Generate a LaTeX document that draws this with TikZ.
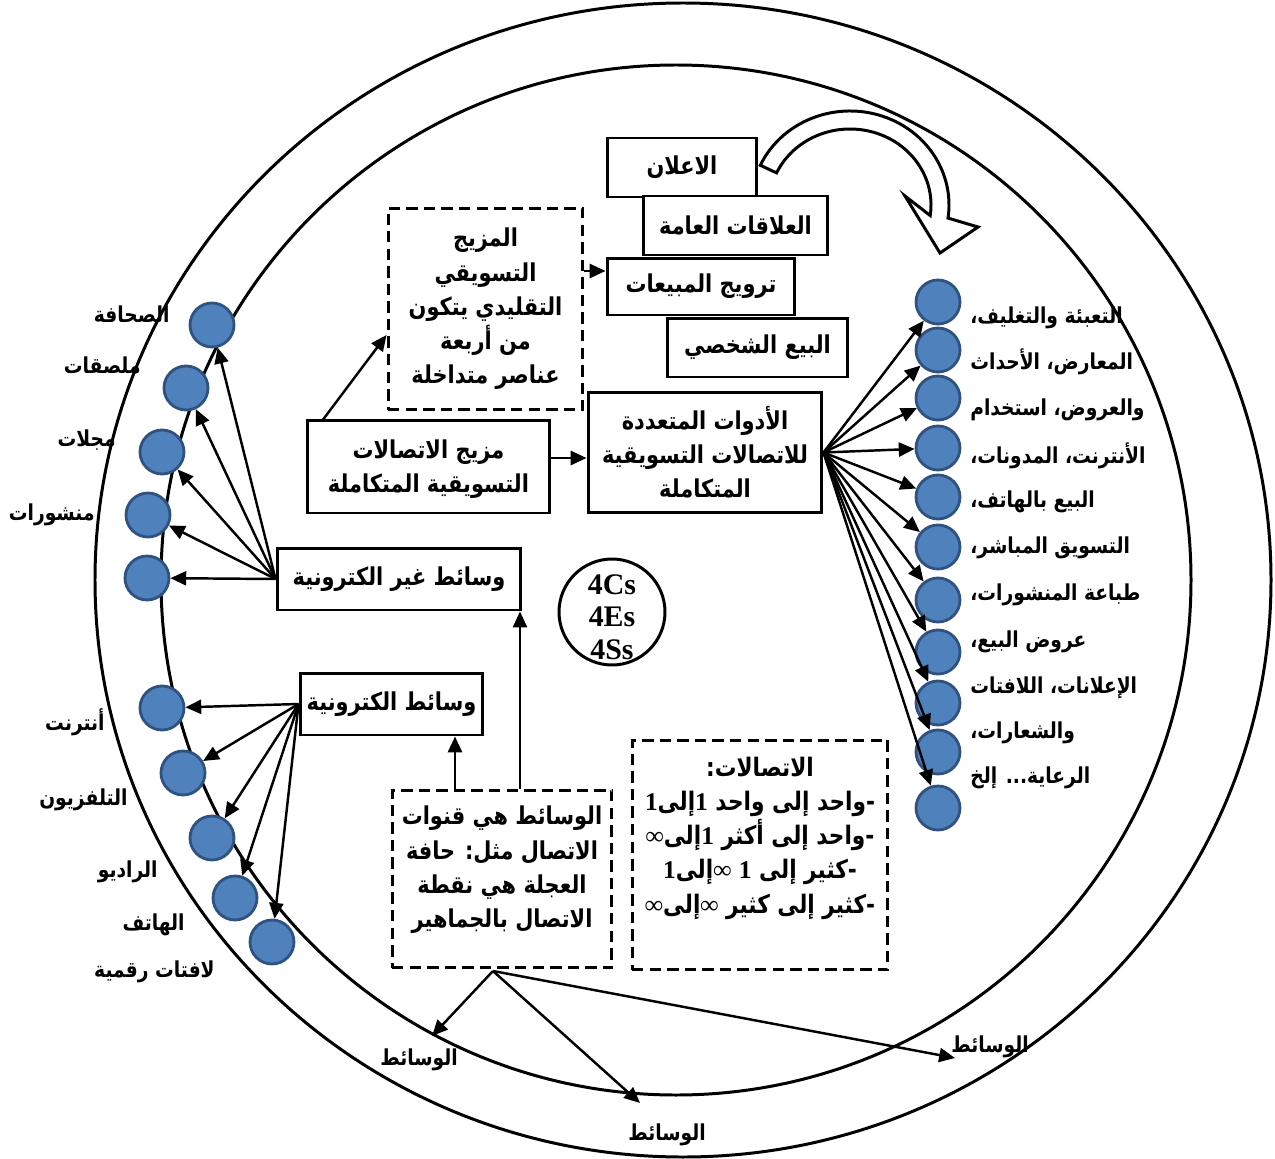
\documentclass[tikz,border=0pt]{standalone}
\usepackage{fontspec}
\usetikzlibrary{arrows.meta,calc}
\TeXXeTstate=1
\setmainfont{Liberation Serif}
\newfontfamily\arfont[Script=Arabic, FakeStretch=0.85]{DejaVu Sans}
\newcommand\ar[1]{\beginR #1\endR}
\newcommand\tok[1]{\hbox{#1}}
\newcommand\num[1]{\hbox{\rmfamily\bfseries #1}}
\definecolor{cblue}{HTML}{4F81BD}
\definecolor{cblueedge}{HTML}{2F5280}
\begin{document}
\begin{tikzpicture}[x=0.02cm,y=-0.02cm,
  ring/.style={line width=1.7pt},
  txt/.style={font=\arfont\bfseries\fontsize{14}{19.5}\selectfont, align=center, inner sep=0pt},
  box/.style={draw, line width=1.7pt, fill=white, inner sep=0pt},
  dbox/.style={draw, line width=1.7pt, dash pattern=on 6.5pt off 3.5pt, inner sep=0pt},
  bcirc/.style={circle, fill=cblue, draw=cblueedge, line width=1.6pt, minimum size=0.88cm, inner sep=0pt},
  lbl/.style={font=\arfont\bfseries\fontsize{12.5}{15}\selectfont, inner sep=0pt},
  arr/.style={-{Triangle[length=9pt,width=8pt]}, line width=1.4pt},
  bigarrow/.style={draw, line width=1.7pt, fill=white, line join=miter}
]
\useasboundingbox (0,0) rectangle (1275,1159);

% outer and inner rings
\draw[ring] (683,580) ellipse[x radius=588, y radius=577];
\draw[ring] (676,580) circle[radius=515];

% four elements of the traditional mix
\node[box, minimum width=3.0cm, minimum height=1.18cm] (adv) at (682,167.5) {};
\node[txt] at (adv) {\ar{الاعلان}};
\node[box, minimum width=3.7cm, minimum height=1.18cm] (pr) at (735.5,225.5) {};
\node[txt] at (pr) {\ar{العلاقات العامة}};
\node[box, minimum width=3.76cm, minimum height=1.14cm] (promo) at (701,286.5) {};
\node[txt] at (promo) {\ar{ترويج المبيعات}};
\node[box, minimum width=3.62cm, minimum height=1.18cm] (psell) at (757.5,347.5) {};
\node[txt] at (psell) {\ar{البيع الشخصي}};

% curved hollow arrow from advertising to the tools column
\coordinate (bend) at (850,205);
\path[bigarrow] ($(bend)+(205:99 and 94)$) arc[start angle=205, end angle=368, x radius=99, y radius=94]
  -- (978,227) -- (940,253) -- (905,196)
  -- ($(bend)+(368:81 and 76)$) arc[start angle=368, end angle=205, x radius=81, y radius=76] -- cycle;

% traditional mix (dashed)
\node[dbox, minimum width=3.9cm, minimum height=4.04cm] (mix) at (485.5,309) {};
\node[txt] at (mix) {\ar{المزيج}\\\ar{التسويقي}\\\ar{التقليدي يتكون}\\\ar{من أربعة}\\\ar{عناصر متداخلة}};

% IMC mix and tools
\node[box, minimum width=4.86cm, minimum height=1.86cm] (imc) at (428.5,466.5) {};
\node[txt] at (428.5,469) {\ar{مزيج الاتصالات}\\\ar{التسويقية المتكاملة}};
\node[box, minimum width=4.68cm, minimum height=2.42cm] (tools) at (705,452.5) {};
\node[txt] at (705,452) {\ar{الأدوات المتعددة}\\\ar{للاتصالات التسويقية}\\\ar{المتكاملة}};

% media boxes
\node[box, minimum width=4.88cm, minimum height=1.24cm] (nonel) at (399,579) {};
\node[txt] at (nonel) {\ar{وسائط غير الكترونية}};
\node[box, minimum width=3.66cm, minimum height=1.24cm] (elec) at (391.5,704) {};
\node[txt] at (elec) {\ar{وسائط الكترونية}};

\node[dbox, minimum width=4.4cm, minimum height=3.56cm] (media) at (502,879) {};
\node[txt] at (502,870) {\ar{الوسائط هي قنوات}\\\ar{الاتصال مثل: حافة}\\\ar{العجلة هي نقطة}\\\ar{الاتصال بالجماهير}};

% communication types, each line laid out right to left piece by piece
\node[dbox, minimum width=5.12cm, minimum height=4.6cm] (comm) at (760,855) {};
\node[txt, font=\arfont\bfseries\fontsize{14.5}{19.5}\selectfont] at (760,838) {%
  \tok{:}\tok{الاتصالات}\\
  \num{1}\tok{إلى}\num{1} \tok{واحد} \tok{إلى} \tok{واحد}\tok{-}\\
  \num{∞}\tok{إلى}\num{1} \tok{أكثر} \tok{إلى} \tok{واحد}\tok{-}\\
  \num{1}\tok{إلى}\num{∞} \num{1} \tok{إلى} \tok{كثير}\tok{-}\\
  \num{∞}\tok{إلى}\num{∞} \tok{كثير} \tok{إلى} \tok{كثير}\tok{-}};

% 4Cs circle
\node[circle, draw, line width=1.7pt, minimum size=2.12cm, inner sep=0pt] (four) at (612,612) {};
\begin{scope}
  \clip (540,540) rectangle (690,662);
  \node[font=\rmfamily\bfseries\fontsize{17}{18.5}\selectfont, align=center, inner sep=0pt] at (612,617) {4Cs\\4Es\\4Ss};
\end{scope}

% internal connectors
\coordinate (imcfoot) at (322,421);
\draw[arr] (imcfoot) -- (mix.west |- 0,335);
\draw[arr] (mix.east |- 0,271) -- (promo.west |- 0,271);
\draw[arr] (imc.east |- 0,458) -- (tools.west |- 0,458);
\draw[arr] (media.north -| 455,0) -- (elec.south -| 455,0);
\draw[arr] (media.north -| 520,0) -- (nonel.south -| 520,0);

% left circles, printed media
\foreach \n/\x/\y in {1/212/325, 2/186/388, 3/162/452, 4/148/515, 5/147/578}
  \node[bcirc] (l\n) at (\x,\y) {};
\foreach \n in {1,...,5} \draw[arr] (nonel.west) -- (l\n);
\node[lbl, anchor=east] (tl1) at (170,314) {\ar{الصحافة}};
\node[lbl, anchor=east] (tl2) at (141,365) {\ar{ملصقات}};
\node[lbl, anchor=east] (tl3) at (116,440) {\ar{مجلات}};
\node[lbl, anchor=east] (tl4) at (95,515) {\ar{منشورات}};

% left circles, electronic media
\foreach \n/\x/\y in {1/162/708, 2/183/773, 3/212/838, 4/235/898, 5/272/942}
  \node[bcirc] (e\n) at (\x,\y) {};
\foreach \n in {1,...,5} \draw[arr] (elec.west) -- (e\n);
\node[lbl, anchor=east] (te1) at (105,722) {\ar{أنترنت}};
\node[lbl, anchor=east] (te2) at (128,800) {\ar{التلفزيون}};
\node[lbl, anchor=east] (te3) at (158,872) {\ar{الراديو}};
\node[lbl, anchor=east] (te4) at (185,925) {\ar{الهاتف}};
\node[lbl, anchor=east] (te5) at (215,972) {\ar{لافتات رقمية}};

% right circles, communication tools
\foreach \n/\y in {1/302, 2/350, 3/398, 4/448, 5/497, 6/547, 7/600, 8/652, 9/703, 10/752, 11/808}
  \node[bcirc] (r\n) at (938,\y) {};
\foreach \n in {1,...,11} \draw[arr] (tools.east) -- (r\n);
\foreach \y/\t in {318/{التعبئة والتغليف،}, 362/{المعارض، الأحداث}, 410/{والعروض، استخدام},
  456/{الأنترنت، المدونات،}, 502/{البيع بالهاتف،}, 548/{التسويق المباشر،}, 595/{طباعة المنشورات،},
  642/{عروض البيع،}, 688/{الإعلانات، اللافتات}, 733/{والشعارات،}, 778/{الرعاية... إلخ}}
  \node[lbl, anchor=west] at (970,\y) {\ar{\t}};

% media arrows leaving the rim
\coordinate (src) at (493,971);
\node[lbl] (m1) at (419,1060) {\ar{الوسائط}};
\node[lbl] (m2) at (667,1135) {\ar{الوسائط}};
\node[lbl] (m3) at (990,1047) {\ar{الوسائط}};
\draw[arr] (src) -- (432,1036);
\draw[arr] (src) -- (640,1103);
\draw[arr] (src) -- (955,1058);
\end{tikzpicture}
\end{document}
